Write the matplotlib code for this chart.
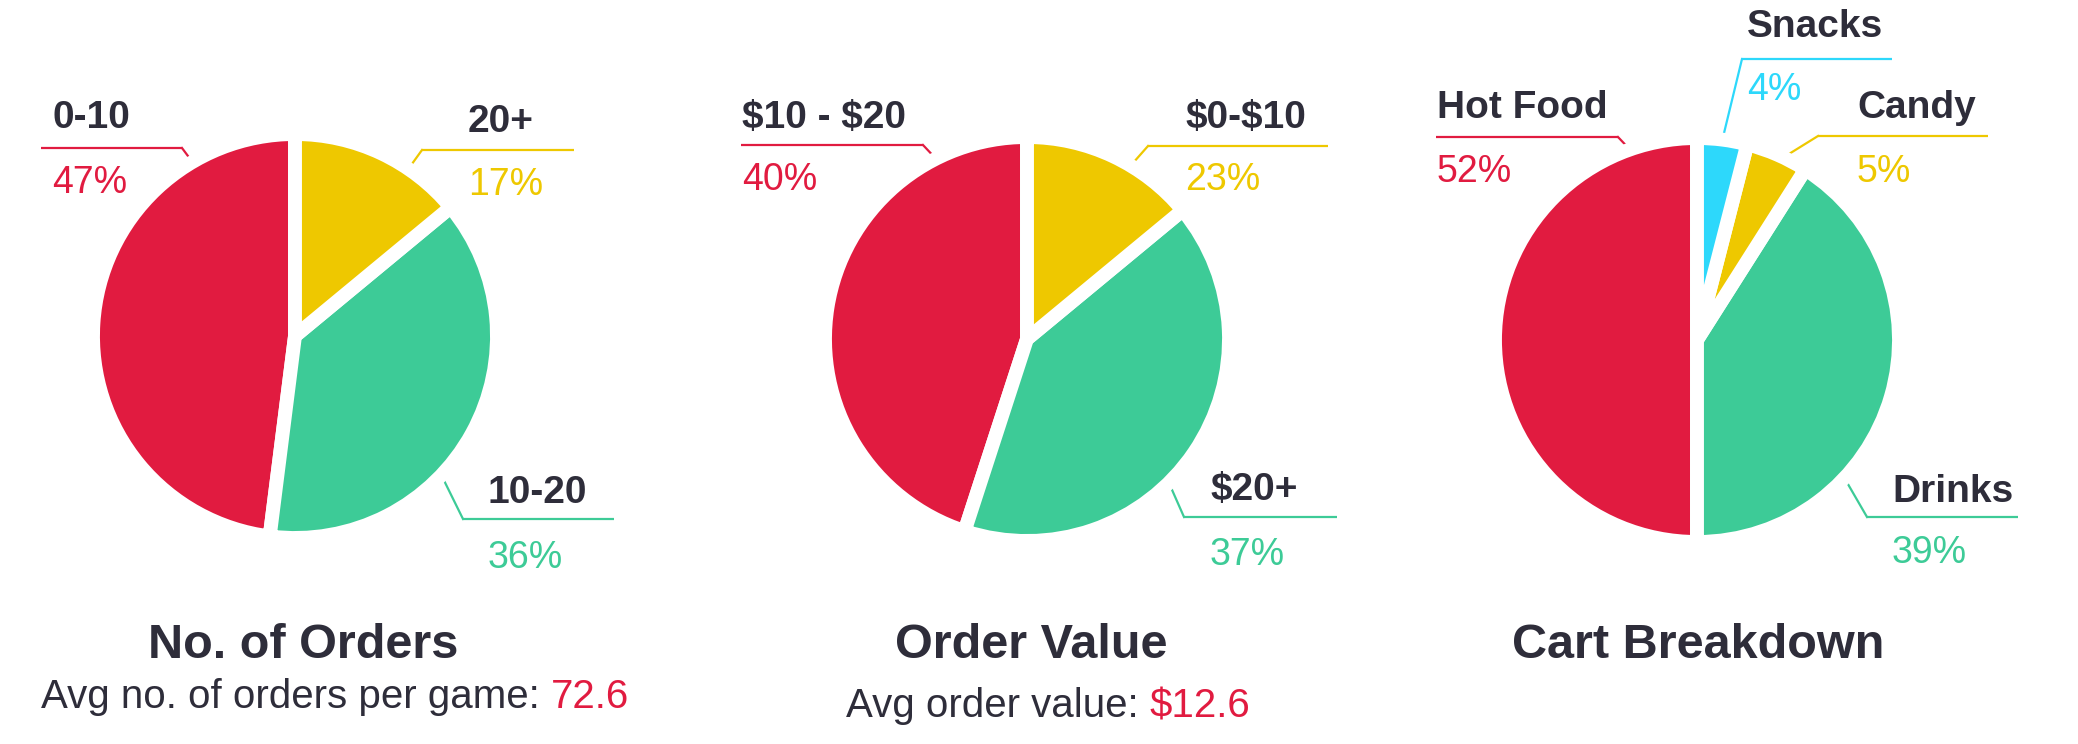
import numpy as np
import matplotlib
matplotlib.use("Agg")
import matplotlib.pyplot as plt

# ---------------- data ----------------
# printed percentages
orders_labels = ["0-10", "10-20", "20+"]
orders_pct = [47, 36, 17]
value_labels = ["$10 - $20", "$20+", "$0-$10"]
value_pct = [40, 37, 23]
cart_labels = ["Hot Food", "Drinks", "Candy", "Snacks"]
cart_pct = [52, 39, 5, 4]

# wedge sizes as drawn in the picture
orders_drawn = [48, 38, 14]
value_drawn = [45, 41, 14]
cart_drawn = [50, 41, 5, 4]

titles = ["No. of Orders", "Order Value", "Cart Breakdown"]
subtitle_text = ["Avg no. of orders per game: ", "Avg order value: "]
subtitle_value = ["72.6", "$12.6"]

RED, YELLOW, GREEN, CYAN = "#E11B40", "#EEC800", "#3DCB97", "#2DD8FB"
DARK = "#2E2D3A"
orders_colors = [RED, GREEN, YELLOW]
value_colors = [RED, GREEN, YELLOW]
cart_colors = [RED, GREEN, YELLOW, CYAN]

plt.rcParams["font.family"] = ["Liberation Sans", "DejaVu Sans"]

W, H = 2078, 744
fig = plt.figure(figsize=(W / 100, H / 100), dpi=100)
fig.patch.set_facecolor("white")

ov = fig.add_axes([0, 0, 1, 1])
ov.set_xlim(0, W)
ov.set_ylim(H, 0)
ov.axis("off")

R = 202  # pie axes half-size in px
EDGE = 10  # white gap (pt)

centers = [(295, 336), (1027, 339), (1697, 340)]

# (text_x, label_baseline, pct_baseline, line_y, line_x0, line_x1, elbow_x, anchor_angle)
layouts = [
    [(52, 128, 193, 148, 41, 182, 182, 120.3),
     (488, 503, 568, 519, 463, 614, 463, -42.8),
     (468, 132, 195, 150, 422, 574, 422, 55.9)],
    [(742, 128, 190, 145, 741, 923, 923, 116.2),
     (1210, 500, 565, 517, 1184, 1337, 1184, -44.6),
     (1185, 128, 190, 146, 1148, 1328, 1148, 59.5)],
    [(1437, 118, 182, 137, 1436, 1618, 1618, 108.5),
     (1892, 502, 563, 517, 1867, 2018, 1867, -42.5),
     (1857, 118, 182, 136, 1818, 1988, 1818, 66.0),
     (1747, 37, 100, 59, 1742, 1892, 1742, 83.0)],
]

datasets = [(orders_labels, orders_pct, orders_drawn, orders_colors),
            (value_labels, value_pct, value_drawn, value_colors),
            (cart_labels, cart_pct, cart_drawn, cart_colors)]

pie_axes = []
for (cx, cy), (labels, pct, drawn, cols) in zip(centers, datasets):
    pax = fig.add_axes([(cx - R) / W, 1 - (cy + R) / H, 2 * R / W, 2 * R / H])
    pax.pie(drawn, colors=cols, startangle=90, counterclock=True, radius=1,
            wedgeprops=dict(edgecolor="white", linewidth=EDGE, joinstyle="round"))
    pax.set_xlim(-1, 1)
    pax.set_ylim(-1, 1)
    pax.set_aspect("equal")
    pax.axis("off")
    pie_axes.append(pax)

rr = 1 - (EDGE * 100 / 72 / 2) / R
LABEL_FS = 28
PCT_FS = 27
for pax, (labels, pct, drawn, cols), lay in zip(pie_axes, datasets, layouts):
    for lab, p, c, L in zip(labels, pct, cols, lay):
        tx, lb, pb, ly, x0, x1, ex, ang = L
        a = np.deg2rad(ang)
        disp = pax.transData.transform((rr * np.cos(a), rr * np.sin(a)))
        axp, ayp = ov.transData.inverted().transform(disp)
        ov.plot([x0, x1], [ly, ly], color=c, lw=1.6, solid_capstyle="butt", zorder=1)
        ov.plot([ex, axp], [ly, ayp], color=c, lw=1.6, zorder=1)
        ov.text(tx, lb, lab, ha="left", va="baseline", fontsize=LABEL_FS,
                fontweight="bold", color=DARK, parse_math=False)
        ov.text(tx, pb, f"{p}%", ha="left", va="baseline", fontsize=PCT_FS,
                color=c, parse_math=False)

title_cx = [303, 1031, 1698]
title_base = 658
sub_cx = [335, 1048]
sub_base = [708, 717]
for i, t in enumerate(titles):
    ov.text(title_cx[i], title_base, t, ha="center", va="baseline", fontsize=35,
            fontweight="bold", color=DARK)

fig.canvas.draw()
renderer = fig.canvas.get_renderer()
for i in range(2):
    t1 = ov.text(0, sub_base[i], subtitle_text[i], ha="left", va="baseline",
                 fontsize=29, color=DARK, parse_math=False)
    t2 = ov.text(0, sub_base[i], subtitle_value[i], ha="left", va="baseline",
                 fontsize=29, color=RED, parse_math=False)
    w1 = t1.get_window_extent(renderer).width
    w2 = t2.get_window_extent(renderer).width
    x_start = sub_cx[i] - (w1 + w2) / 2
    t1.set_x(x_start)
    t2.set_x(x_start + w1)

fig.savefig("out.png", dpi=100, facecolor="white")
